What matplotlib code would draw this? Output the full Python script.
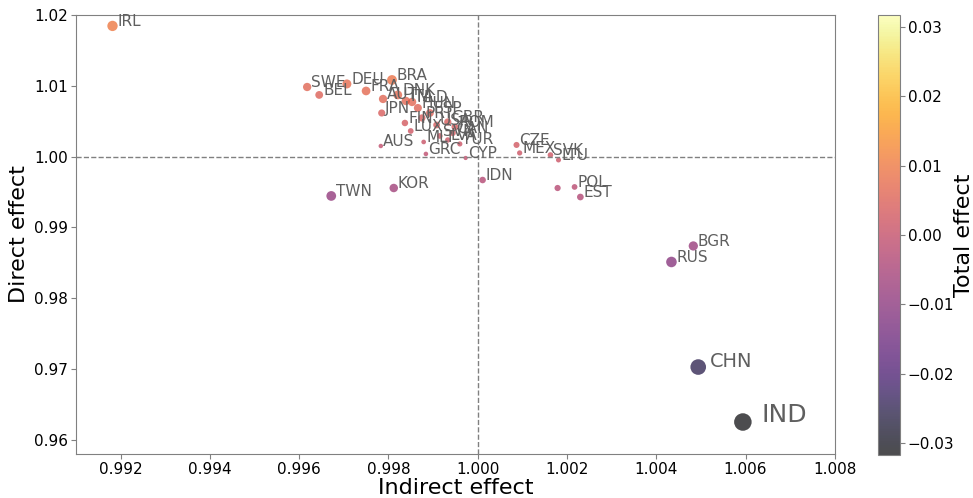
import matplotlib
matplotlib.use("Agg")
import matplotlib.pyplot as plt
import numpy as np

countries = ["AUS", "AUT", "BEL", "BGR", "BRA", "CAN", "CHN", "CYP", "CZE", "DEU",
             "DNK", "ESP", "EST", "FIN", "FRA", "GBR", "GRC", "HUN", "IDN", "IND",
             "IRL", "ITA", "JPN", "KOR", "LTU", "LUX", "LVA", "MEX", "MLT", "NLD",
             "POL", "PRT", "ROM", "RUS", "SVK", "SVN", "SWE", "TUR", "TWN", "USA",
             "RoW"]
indirect = [0.99783, 0.99788, 0.99645, 1.00483, 0.99808, 0.99944, 1.00494, 0.99973, 1.00087, 0.99707,
            0.99821, 0.99893, 1.00230, 0.99837, 0.99750, 0.99933, 0.99884, 0.99866, 1.00011, 1.00594,
            0.99182, 0.99839, 0.99785, 0.99812, 1.00181, 0.99850, 0.99933, 1.00094, 0.99879, 0.99853,
            1.00217, 0.99875, 0.99949, 1.00434, 1.00163, 0.99915, 0.99618, 0.99960, 0.99672, 0.99908,
            1.00179]
direct = [1.00150, 1.00814, 1.00871, 0.98739, 1.01082, 1.00334, 0.97030, 0.99981, 1.00165, 1.01026,
          1.00871, 1.00616, 0.99430, 1.00475, 1.00927, 1.00489, 1.00038, 1.00687, 0.99670, 0.96254,
          1.01845, 1.00786, 1.00616, 0.99557, 0.99953, 1.00362, 1.00235, 1.00052, 1.00207, 1.00772,
          0.99572, 1.00546, 1.00419, 0.98513, 1.00023, 1.00292, 1.00983, 1.00179, 0.99445, 1.00447,
          0.99557]
total = [-0.0007, 0.0060, 0.0051, -0.0078, 0.0089, 0.0028, -0.0249, -0.0005, 0.0025, 0.0073,
         0.0069, 0.0051, -0.0034, 0.0031, 0.0067, 0.0042, -0.0008, 0.0055, -0.0032, -0.0317,
         0.0101, 0.0062, 0.0040, -0.0063, 0.0013, 0.0021, 0.0017, 0.0015, 0.0009, 0.0062,
         -0.0021, 0.0042, 0.0037, -0.0106, 0.0019, 0.0021, 0.0060, 0.0014, -0.0088, 0.0035,
         -0.0027]

tot = np.array(total)
lim = np.abs(tot).max()
sizes = 4800 * np.abs(tot) + 7
fsizes = np.maximum(11, 590 * np.abs(tot) - 0.7)

fig = plt.figure(figsize=(9.73, 4.98), dpi=100)
ax = fig.add_axes([0.078, 0.088, 0.780, 0.882])
cax = fig.add_axes([0.902, 0.086, 0.023, 0.884])

sc = ax.scatter(indirect, direct, c=total, s=sizes, cmap="inferno",
                vmin=-lim, vmax=lim, alpha=0.7, edgecolors="none")
for name, x, y, s, fs in zip(countries, indirect, direct, sizes, fsizes):
    if name == "RoW":
        continue
    dx = np.sqrt(s) / 2 + (fs - 11)
    ax.annotate(name, (x, y), xytext=(dx, 0), textcoords="offset points",
                fontsize=fs, color="#5f5f5f", va="baseline", ha="left")

ax.axhline(1.0, color="gray", ls="--", lw=1)
ax.axvline(1.0, color="gray", ls="--", lw=1)
ax.set_xlim(0.991, 1.008)
ax.set_ylim(0.958, 1.02)
xt = np.arange(0.992, 1.0081, 0.002)
ax.set_xticks(xt)
ax.set_xticklabels([f"{v:.3f}" for v in xt])
ax.set_yticks([0.96, 0.97, 0.98, 0.99, 1.00, 1.01, 1.02])
ax.set_yticklabels(["0.96", "0.97", "0.98", "0.99", "1.00", "1.01", "1.02"])
ax.tick_params(labelsize=11, color="gray", pad=2)
ax.set_xlabel("Indirect effect", fontsize=16, labelpad=1)
ax.set_ylabel("Direct effect", fontsize=16, labelpad=4)
for sp in ax.spines.values():
    sp.set_color("gray")

cb = fig.colorbar(sc, cax=cax)
cb.set_ticks([-0.03, -0.02, -0.01, 0.0, 0.01, 0.02, 0.03])
cb.ax.tick_params(labelsize=11, color="gray", pad=2)
cb.outline.set_edgecolor("gray")
cb.set_label("Total effect", fontsize=16, labelpad=0)

fig.savefig("out.png", dpi=100)
